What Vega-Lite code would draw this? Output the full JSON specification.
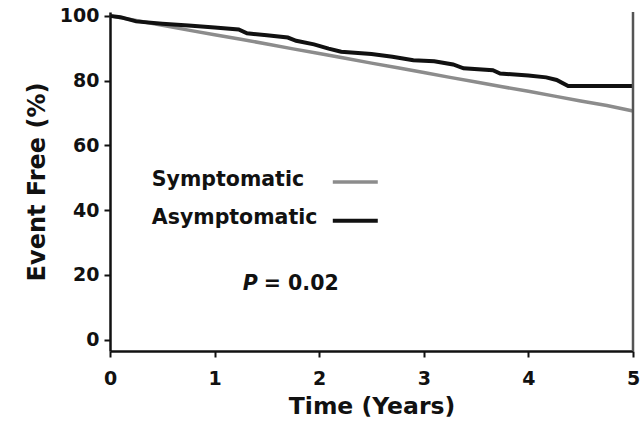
{
  "$schema": "https://vega.github.io/schema/vega-lite/v6.json",
  "width": 523,
  "height": 339,
  "autosize": {"type": "none"},
  "padding": {"left": 110, "top": 12, "right": 9, "bottom": 73},
  "background": "white",
  "config": {
    "view": {"stroke": null},
    "font": "DejaVu Sans",
    "axis": {
      "domainColor": "#111", "domainWidth": 2.5,
      "tickColor": "#111", "tickWidth": 2, "tickSize": 6,
      "labelFont": "DejaVu Sans", "labelFontWeight": "bold", "labelFontSize": 19, "labelColor": "#111",
      "labelFlush": false, "labelOverlap": false,
      "titleFont": "DejaVu Sans", "titleFontWeight": "bold", "titleFontSize": 24, "titleColor": "#111",
      "grid": false
    }
  },
  "datasets": {
    "km": [
      {"group": "Symptomatic", "t": 0, "v": 100},
      {"group": "Symptomatic", "t": 0.25, "v": 98.6},
      {"group": "Symptomatic", "t": 0.5, "v": 97.1},
      {"group": "Symptomatic", "t": 0.75, "v": 95.6},
      {"group": "Symptomatic", "t": 1.0, "v": 94.2},
      {"group": "Symptomatic", "t": 1.25, "v": 92.8},
      {"group": "Symptomatic", "t": 1.5, "v": 91.3},
      {"group": "Symptomatic", "t": 1.75, "v": 89.8},
      {"group": "Symptomatic", "t": 2.0, "v": 88.4},
      {"group": "Symptomatic", "t": 2.25, "v": 86.9},
      {"group": "Symptomatic", "t": 2.5, "v": 85.4},
      {"group": "Symptomatic", "t": 2.75, "v": 84.0},
      {"group": "Symptomatic", "t": 3.0, "v": 82.5},
      {"group": "Symptomatic", "t": 3.25, "v": 81.0},
      {"group": "Symptomatic", "t": 3.5, "v": 79.6},
      {"group": "Symptomatic", "t": 3.75, "v": 78.1},
      {"group": "Symptomatic", "t": 4.0, "v": 76.7},
      {"group": "Symptomatic", "t": 4.25, "v": 75.2},
      {"group": "Symptomatic", "t": 4.5, "v": 73.7},
      {"group": "Symptomatic", "t": 4.75, "v": 72.3},
      {"group": "Symptomatic", "t": 5.0, "v": 70.6},
      {"group": "Asymptomatic", "t": 0, "v": 100},
      {"group": "Asymptomatic", "t": 0.1, "v": 99.6},
      {"group": "Asymptomatic", "t": 0.25, "v": 98.3},
      {"group": "Asymptomatic", "t": 0.5, "v": 97.6},
      {"group": "Asymptomatic", "t": 0.75, "v": 97.0},
      {"group": "Asymptomatic", "t": 1.0, "v": 96.4},
      {"group": "Asymptomatic", "t": 1.23, "v": 95.8},
      {"group": "Asymptomatic", "t": 1.31, "v": 94.6},
      {"group": "Asymptomatic", "t": 1.5, "v": 94.0},
      {"group": "Asymptomatic", "t": 1.7, "v": 93.3},
      {"group": "Asymptomatic", "t": 1.78, "v": 92.3},
      {"group": "Asymptomatic", "t": 1.95, "v": 91.2},
      {"group": "Asymptomatic", "t": 2.09, "v": 89.9},
      {"group": "Asymptomatic", "t": 2.21, "v": 88.9},
      {"group": "Asymptomatic", "t": 2.5, "v": 88.2},
      {"group": "Asymptomatic", "t": 2.7, "v": 87.4},
      {"group": "Asymptomatic", "t": 2.9, "v": 86.3},
      {"group": "Asymptomatic", "t": 3.1, "v": 86.0},
      {"group": "Asymptomatic", "t": 3.28, "v": 85.0},
      {"group": "Asymptomatic", "t": 3.38, "v": 83.8},
      {"group": "Asymptomatic", "t": 3.66, "v": 83.2},
      {"group": "Asymptomatic", "t": 3.73, "v": 82.2},
      {"group": "Asymptomatic", "t": 4.0, "v": 81.6},
      {"group": "Asymptomatic", "t": 4.17, "v": 81.0},
      {"group": "Asymptomatic", "t": 4.27, "v": 80.2},
      {"group": "Asymptomatic", "t": 4.38, "v": 78.3},
      {"group": "Asymptomatic", "t": 5.0, "v": 78.3}
    ]
  },
  "layer": [
    {
      "data": {"name": "km"},
      "transform": [{"filter": "datum.group === 'Symptomatic'"}],
      "mark": {"type": "line", "color": "#8c8c8c", "strokeWidth": 3.5},
      "encoding": {
        "x": {"field": "t", "type": "quantitative", "scale": {"domain": [0, 5], "nice": false},
              "axis": {"values": [0, 1, 2, 3, 4, 5], "format": "d", "title": "Time (Years)", "labelPadding": 12, "titlePadding": 6, "titleFontSize": 23.5}},
        "y": {"field": "v", "type": "quantitative", "scale": {"domain": [-3.55, 101.2], "nice": false, "zero": false},
              "axis": {"values": [0, 20, 40, 60, 80, 100], "format": "d", "title": "Event Free (%)", "labelPadding": 5, "titlePadding": 10}}
      }
    },
    {
      "data": {"name": "km"},
      "transform": [{"filter": "datum.group === 'Asymptomatic'"}],
      "mark": {"type": "line", "color": "#111111", "strokeWidth": 4},
      "encoding": {
        "x": {"field": "t", "type": "quantitative"},
        "y": {"field": "v", "type": "quantitative"}
      }
    },
    {
      "data": {"values": [{}]},
      "mark": {"type": "rule", "color": "#555", "strokeWidth": 2.5},
      "encoding": {"x": {"datum": 5}}
    },
    {
      "data": {"values": [{}]},
      "mark": {"type": "text", "text": "Symptomatic", "align": "left", "baseline": "middle", "fontSize": 20.5, "fontWeight": "bold", "color": "#111"},
      "encoding": {"x": {"datum": 0.4}, "y": {"datum": 49.4}}
    },
    {
      "data": {"values": [{}]},
      "mark": {"type": "text", "text": "Asymptomatic", "align": "left", "baseline": "middle", "fontSize": 20.5, "fontWeight": "bold", "color": "#111"},
      "encoding": {"x": {"datum": 0.4}, "y": {"datum": 37.6}}
    },
    {
      "data": {"values": [{}]},
      "mark": {"type": "rule", "color": "#8c8c8c", "strokeWidth": 3.5},
      "encoding": {"x": {"datum": 2.13}, "x2": {"datum": 2.56}, "y": {"datum": 48.7}}
    },
    {
      "data": {"values": [{}]},
      "mark": {"type": "rule", "color": "#111111", "strokeWidth": 4},
      "encoding": {"x": {"datum": 2.13}, "x2": {"datum": 2.56}, "y": {"datum": 36.7}}
    },
    {
      "data": {"values": [{}]},
      "mark": {"type": "text", "text": "P", "align": "left", "baseline": "middle", "fontSize": 20.5, "fontWeight": "bold", "fontStyle": "italic", "color": "#111"},
      "encoding": {"x": {"datum": 1.27}, "y": {"datum": 17.1}}
    },
    {
      "data": {"values": [{}]},
      "mark": {"type": "text", "text": "= 0.02", "align": "left", "baseline": "middle", "fontSize": 20.5, "fontWeight": "bold", "color": "#111"},
      "encoding": {"x": {"datum": 1.47}, "y": {"datum": 17.1}}
    }
  ]
}
